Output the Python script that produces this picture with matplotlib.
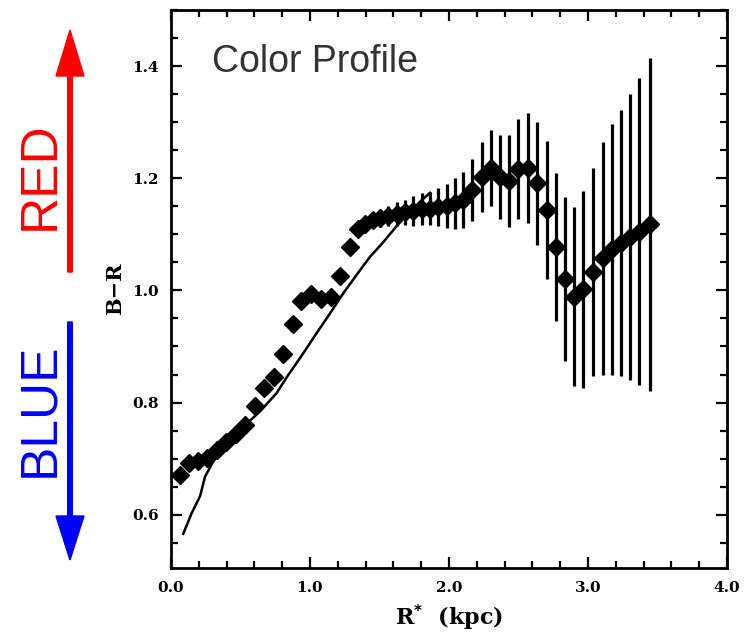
import matplotlib
matplotlib.use("Agg")
import matplotlib.pyplot as plt
from matplotlib.ticker import MultipleLocator

# measured colour profile (diamonds)
r_kpc = [0.065, 0.132, 0.196, 0.261, 0.329, 0.396, 0.465, 0.532, 0.602, 0.669,
         0.743, 0.808, 0.876, 0.933, 1.007, 1.077, 1.149, 1.216, 1.288, 1.347,
         1.396, 1.453, 1.504, 1.561, 1.624, 1.683, 1.743, 1.804, 1.863, 1.923,
         1.983, 2.043, 2.103, 2.168, 2.235, 2.300, 2.367, 2.434, 2.499, 2.571,
         2.635, 2.703, 2.770, 2.835, 2.899, 2.966, 3.034, 3.106, 3.171, 3.235,
         3.302, 3.369, 3.446]
b_minus_r = [0.670, 0.692, 0.696, 0.701, 0.716, 0.729, 0.744, 0.760, 0.794, 0.826,
             0.845, 0.887, 0.940, 0.981, 0.993, 0.984, 0.989, 1.026, 1.077, 1.110,
             1.118, 1.126, 1.129, 1.133, 1.136, 1.139, 1.142, 1.145, 1.146, 1.148,
             1.150, 1.155, 1.162, 1.179, 1.202, 1.218, 1.202, 1.195, 1.216, 1.218,
             1.191, 1.144, 1.078, 1.020, 0.989, 1.002, 1.033, 1.057, 1.073, 1.084,
             1.095, 1.105, 1.118]
b_minus_r_err = [0, 0, 0, 0, 0, 0, 0, 0, 0, 0,
                 0, 0, 0, 0, 0, 0, 0, 0, 0, 0.009,
                 0.012, 0.014, 0.016, 0.018, 0.021, 0.023, 0.027, 0.028, 0.030, 0.034,
                 0.039, 0.045, 0.050, 0.055, 0.062, 0.068, 0.075, 0.082, 0.089, 0.098,
                 0.110, 0.123, 0.132, 0.146, 0.159, 0.176, 0.185, 0.207, 0.223, 0.237,
                 0.255, 0.274, 0.297]

# model curve (solid line)
model_r = [0.088, 0.149, 0.209, 0.245, 0.304, 0.401, 0.520, 0.640, 0.760, 0.832,
           0.952, 1.048, 1.144, 1.240, 1.336, 1.432, 1.527, 1.624, 1.719, 1.791, 1.863]
model_br = [0.566, 0.603, 0.633, 0.668, 0.695, 0.728, 0.757, 0.784, 0.817, 0.845,
            0.888, 0.924, 0.959, 0.995, 1.028, 1.060, 1.086, 1.115, 1.140, 1.158, 1.174]

W, H = 746, 643
fig = plt.figure(figsize=(W / 100, H / 100), dpi=100)
ax = fig.add_axes([171 / W, 1 - 568 / H, (727 - 171) / W, (568 - 10) / H])

ax.plot(model_r, model_br, color="black", lw=1.8, zorder=2)
ax.errorbar(r_kpc, b_minus_r, yerr=b_minus_r_err, fmt="D", color="black",
            ms=9.5, elinewidth=2.3, capsize=0, zorder=3)

ax.set_xlim(0, 4.0)
ax.set_ylim(0.505, 1.5)
ax.xaxis.set_minor_locator(MultipleLocator(0.2))
ax.yaxis.set_minor_locator(MultipleLocator(0.05))
ax.set_xticks([0, 1, 2, 3, 4])
ax.set_xticklabels(["0.0", "1.0", "2.0", "3.0", "4.0"])
ax.set_yticks([0.6, 0.8, 1.0, 1.2, 1.4])
ax.set_yticklabels(["0.6", "0.8", "1.0", "1.2", "1.4"])
ax.tick_params(which="both", direction="in", top=True, right=True, width=1.6)
ax.tick_params(which="major", length=8)
ax.tick_params(which="minor", length=5)
ax.tick_params(axis="x", pad=9)
ax.tick_params(axis="y", pad=9)
for lab in ax.get_xticklabels() + ax.get_yticklabels():
    lab.set_fontfamily("DejaVu Serif")
    lab.set_fontweight("bold")
    lab.set_fontsize(11)
for sp in ax.spines.values():
    sp.set_linewidth(2)

ax.set_xlabel("R$^{\\mathbf{*}}$  (kpc)", fontfamily="DejaVu Serif",
              fontweight="bold", fontsize=16, labelpad=6)
ax.set_ylabel("B\u2212R", fontfamily="DejaVu Serif", fontweight="bold",
              fontsize=15, labelpad=5)

ax.text(0.074, 0.889, "Color Profile", transform=ax.transAxes,
        fontfamily="Liberation Sans", fontsize=27, color="#333333",
        va="baseline", ha="left")

# red / blue arrows at left
fig.add_artist(matplotlib.patches.FancyArrow(
    70 / W, (H - 272) / H, 0, (272 - 30) / H, width=4 / H,
    head_width=28 / W, head_length=46 / H, length_includes_head=True,
    color="#ff0000", transform=fig.transFigure))
fig.add_artist(matplotlib.patches.FancyArrow(
    70 / W, (H - 322) / H, 0, -(560 - 322) / H, width=4 / H,
    head_width=28 / W, head_length=44 / H, length_includes_head=True,
    color="#0000ff", transform=fig.transFigure))
fig.text(40 / W, 1 - 176 / H, "RED", rotation=90, color="#ff0000",
         fontfamily="Liberation Sans", fontsize=37, ha="center", va="center")
fig.text(40 / W, 1 - 410 / H, "BLUE", rotation=90, color="#0000ff",
         fontfamily="Liberation Sans", fontsize=37, ha="center", va="center")

fig.savefig("out.png", dpi=100)
